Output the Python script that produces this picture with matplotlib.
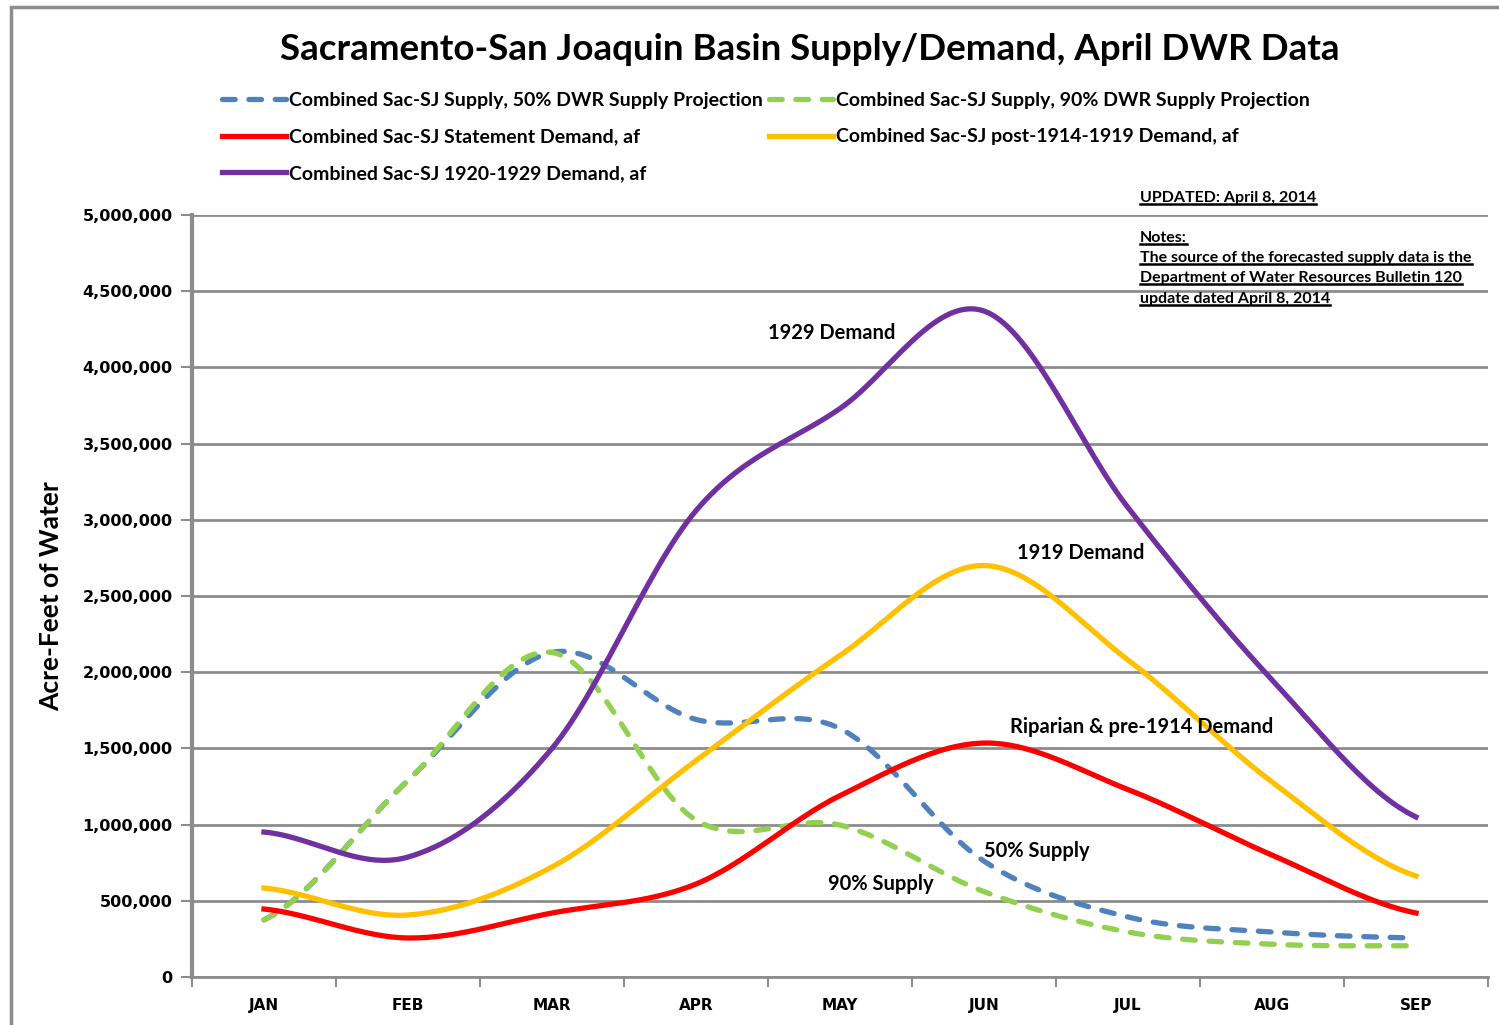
import numpy as np
import matplotlib
matplotlib.use("Agg")
import matplotlib.pyplot as plt
from matplotlib.lines import Line2D
from matplotlib.patches import Rectangle
from matplotlib.ticker import FuncFormatter, MultipleLocator

months = ['JAN', 'FEB', 'MAR', 'APR', 'MAY', 'JUN', 'JUL', 'AUG', 'SEP']
supply_50 = [375000, 1290000, 2130000, 1690000, 1630000, 760000, 394000, 295000, 256000]
supply_90 = [375000, 1290000, 2130000, 1030000, 997000, 560000, 295000, 215000, 205000]
statement_demand = [446000, 256000, 420000, 610000, 1190000, 1535000, 1230000, 800000, 420000]
post1914_demand = [584000, 407000, 722000, 1420000, 2110000, 2700000, 2080000, 1280000, 663000]
demand_1929 = [951000, 787000, 1500000, 3060000, 3730000, 4370000, 3080000, 1950000, 1050000]

labels = ['Combined Sac-SJ Supply, 50% DWR Supply Projection',
          'Combined Sac-SJ Supply, 90% DWR Supply Projection',
          'Combined Sac-SJ Statement Demand, af',
          'Combined Sac-SJ post-1914-1919 Demand, af',
          'Combined Sac-SJ 1920-1929 Demand, af']

FONT = 'Lato'


def smooth(y, n=30):
    # Excel style smoothed line (Catmull-Rom through every point)
    y = np.asarray(y, dtype=float)
    p = np.concatenate([[y[0]], y, [y[-1]]])
    xs, ys = [], []
    t = np.linspace(0, 1, n, endpoint=False)
    for i in range(len(y) - 1):
        p0, p1, p2, p3 = p[i], p[i + 1], p[i + 2], p[i + 3]
        seg = 0.5 * (2 * p1 + (-p0 + p2) * t + (2 * p0 - 5 * p1 + 4 * p2 - p3) * t ** 2
                     + (-p0 + 3 * p1 - 3 * p2 + p3) * t ** 3)
        xs.append(i + t)
        ys.append(seg)
    xs.append([len(y) - 1])
    ys.append([y[-1]])
    return np.concatenate(xs), np.concatenate(ys)


fig = plt.figure(figsize=(14.99, 10.25), dpi=100)
ax = fig.add_axes([192 / 1499, 48 / 1025, 1296 / 1499, 762 / 1025])

lw = 3.8
h50, = ax.plot(*smooth(supply_50), color='#4F81BD', lw=lw, dashes=(2.4, 2.6),
               dash_capstyle='round', zorder=3)
h90, = ax.plot(*smooth(supply_90), color='#92D050', lw=lw, dashes=(2.4, 2.6),
               dash_capstyle='round', zorder=4)
hst, = ax.plot(*smooth(statement_demand), color='#FF0000', lw=lw, zorder=5)
h19, = ax.plot(*smooth(post1914_demand), color='#FFC000', lw=lw, zorder=5)
h29, = ax.plot(*smooth(demand_1929), color='#7030A0', lw=lw, zorder=5)

ax.set_xlim(-0.5, len(months) - 0.5)
ax.set_ylim(0, 5000000)
ax.yaxis.set_major_locator(MultipleLocator(500000))
ax.yaxis.set_major_formatter(FuncFormatter(lambda v, p: f'{int(v):,}'))
ax.set_xticks(range(len(months)))
ax.set_xticklabels(months)
ax.set_xticks(np.arange(-0.5, len(months)), minor=True)
ax.tick_params(axis='x', which='major', length=0, pad=15)
ax.tick_params(axis='x', which='minor', length=7, width=1.5, color='#8c8c8c', direction='out')
ax.tick_params(axis='y', length=8, width=1.5, color='#8c8c8c', pad=6)
for t in ax.get_yticklabels():
    t.set_fontfamily('DejaVu Sans')
    t.set_fontweight('bold')
    t.set_fontsize(11.5)
for t in ax.get_xticklabels():
    t.set_fontfamily('DejaVu Sans')
    t.set_fontweight('bold')
    t.set_fontsize(11)

ax.grid(axis='y', color='#8c8c8c', lw=2)
ax.set_axisbelow(True)
for s in ['top', 'right']:
    ax.spines[s].set_visible(False)
ax.spines['left'].set_color('#8c8c8c')
ax.spines['left'].set_linewidth(3)
ax.spines['bottom'].set_color('#8c8c8c')
ax.spines['bottom'].set_linewidth(2)

ax.set_ylabel('Acre-Feet of Water', fontfamily=FONT, fontweight='bold', fontsize=19, labelpad=14)

# curve labels
ann = dict(fontfamily=FONT, fontweight='bold', fontsize=14.5, zorder=6)
ax.text(3.94, 4226000, '1929 Demand', ha='center', va='center', **ann)
ax.text(5.67, 2780000, '1919 Demand', ha='center', va='center', **ann)
ax.text(5.18, 1640000, 'Riparian & pre-1914 Demand', ha='left', va='center', **ann)
ax.text(5.37, 827000, '50% Supply', ha='center', va='center', **ann)
ax.text(4.28, 610000, '90% Supply', ha='center', va='center', **ann)

fig.text(810 / 1499, 1 - 50 / 1025, 'Sacramento-San Joaquin Basin Supply/Demand, April DWR Data',
         ha='center', va='center', fontfamily=FONT, fontweight='bold', fontsize=26.5)

leg = fig.legend([h50, hst, h29, h90, h19],
                 [labels[0], labels[2], labels[4], labels[1], labels[3]],
                 ncol=2, loc='upper left', bbox_to_anchor=(222 / 1499, 1 - 92 / 1025),
                 frameon=False, borderaxespad=0, borderpad=0, handlelength=3.3,
                 handletextpad=0.15, columnspacing=0.3, labelspacing=1.0,
                 prop={'family': FONT, 'weight': 'bold', 'size': 14})

# notes in the top right corner, underlined
notes = [(198, 'UPDATED: April 8, 2014'),
         (238, 'Notes:'),
         (258, 'The source of the forecasted supply data is the'),
         (278, 'Department of Water Resources Bulletin 120'),
         (299, 'update dated April 8, 2014')]
note_texts = []
for ypix, s in notes:
    note_texts.append(fig.text(1140 / 1499, 1 - ypix / 1025, s, ha='left', va='center',
                               fontfamily=FONT, fontweight='bold', fontsize=11.5, zorder=6))

# grey page frame
fig.patches.append(Rectangle((11 / 1499, -0.1), 1.2, 1.1 - 7 / 1025, transform=fig.transFigure,
                             fill=False, edgecolor='#8c8c8c', lw=2.5))

fig.canvas.draw()
r = fig.canvas.get_renderer()
for t in note_texts:
    bb = t.get_window_extent(r)
    yy = (bb.y0 + 1) / fig.bbox.height
    fig.lines.append(Line2D([bb.x0 / fig.bbox.width, bb.x1 / fig.bbox.width], [yy, yy],
                            transform=fig.transFigure, color='black', lw=1.8))

fig.savefig('out.png', dpi=100)
